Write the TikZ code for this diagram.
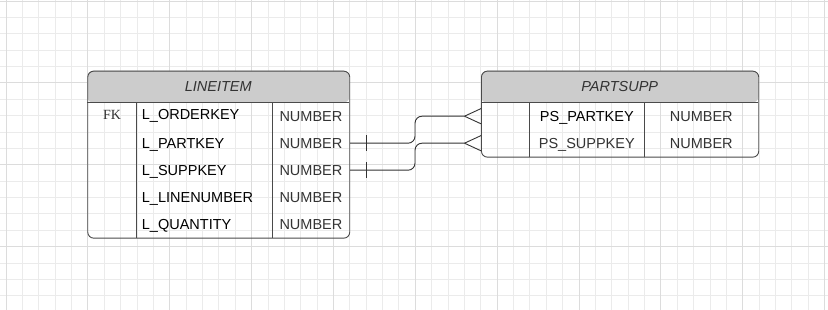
\documentclass[tikz,border=0pt]{standalone}
\usepackage{fontspec}
\setmainfont{Liberation Sans}
\newfontfamily\fkfont{Liberation Serif}
\definecolor{gridminor}{HTML}{EBEBEB}
\definecolor{gridmajor}{HTML}{DCDCDC}
\definecolor{bordc}{HTML}{4A4A4A}
\definecolor{headc}{HTML}{CCCCCC}
\definecolor{txtgrey}{HTML}{333333}
\tikzset{
  gminor/.style={draw=gridminor, line width=0.8pt},
  gmajor/.style={draw=gridmajor, line width=0.8pt},
  tablebox/.style={draw=bordc, line width=0.9pt, rounded corners=6pt, inner sep=0pt, anchor=north west},
  divider/.style={draw=bordc, line width=0.9pt},
  headtxt/.style={font=\fontsize{14.5}{17}\selectfont\itshape, text=txtgrey, inner sep=0pt},
  nametxt/.style={font=\fontsize{14.5}{17}\selectfont, text=black, inner sep=0pt},
  typetxt/.style={font=\fontsize{14.5}{17}\selectfont, text=txtgrey, inner sep=0pt},
  fktxt/.style={font=\fkfont\fontsize{14}{16}\selectfont, text=txtgrey, inner sep=0pt},
  conn/.style={draw=txtgrey, line width=0.9pt},
}
\begin{document}
\begin{tikzpicture}[x=1pt,y=-1pt]
\useasboundingbox (0,0) rectangle (828,310);
\fill[white] (0,0) rectangle (828,310);
% grid
\foreach \k in {0,...,50}{
  \pgfmathsetmacro\xx{6+16.37*\k}
  \draw[gminor] (\xx,0) -- (\xx,310);
}
\foreach \k in {0,...,18}{
  \pgfmathsetmacro\yy{1+16.37*\k}
  \draw[gminor] (0,\yy) -- (828,\yy);
}
\foreach \k in {0,5,...,50}{
  \pgfmathsetmacro\xx{6+16.37*\k}
  \draw[gmajor] (\xx,0) -- (\xx,310);
}
\foreach \k in {0,5,...,15}{
  \pgfmathsetmacro\yy{1+16.37*\k}
  \draw[gmajor] (0,\yy) -- (828,\yy);
}

% ---------- LINEITEM ----------
\fill[headc, rounded corners=6pt] (87.3,102.7) |- (349.3,70.7) -- (349.3,102.7) -- cycle;
\node[tablebox, minimum width=262pt, minimum height=167pt] (li) at (87.3,70.7) {};
\draw[divider] (87.3,102.7) -- (349.3,102.7);
\draw[divider] (136.7,102.7) -- (136.7,237.7);
\draw[divider] (272,102.7) -- (272,237.7);
\node[headtxt] (lih) at (218.3,86.7) {LINEITEM};
\node[fktxt, anchor=base] (lifk) at (112,119.7) {FK};
\node[nametxt, anchor=base west] (lin1) at (141.7,119.5) {L\_ORDERKEY};
\node[nametxt, anchor=base west] (lin2) at (141.7,148.5) {L\_PARTKEY};
\node[nametxt, anchor=base west] (lin3) at (141.7,175.5) {L\_SUPPKEY};
\node[nametxt, anchor=base west] (lin4) at (141.7,202.5) {L\_LINENUMBER};
\node[nametxt, anchor=base west] (lin5) at (141.7,229.5) {L\_QUANTITY};
\node[typetxt, anchor=base west] (lit1) at (279.3,121.5) {NUMBER};
\node[typetxt, anchor=base west] (lit2) at (279.3,148.5) {NUMBER};
\node[typetxt, anchor=base west] (lit3) at (279.3,175.5) {NUMBER};
\node[typetxt, anchor=base west] (lit4) at (279.3,202.5) {NUMBER};
\node[typetxt, anchor=base west] (lit5) at (279.3,229.5) {NUMBER};

% ---------- PARTSUPP ----------
\fill[headc, rounded corners=6pt] (481,102.7) |- (758.3,70.7) -- (758.3,102.7) -- cycle;
\node[tablebox, minimum width=277.3pt, minimum height=86pt] (ps) at (481,70.7) {};
\draw[divider] (481,102.7) -- (758.3,102.7);
\draw[divider] (529.3,102.7) -- (529.3,156.7);
\draw[divider] (644.3,102.7) -- (644.3,156.7);
\node[headtxt] (psh) at (619.7,86.7) {PARTSUPP};
\node[nametxt, anchor=base] (psn1) at (586.8,121.5) {PS\_PARTKEY};
\node[typetxt, anchor=base] (psn2) at (586.8,148.5) {PS\_SUPPKEY};
\node[typetxt, anchor=base] (pst1) at (701.3,121.5) {NUMBER};
\node[typetxt, anchor=base] (pst2) at (701.3,148.5) {NUMBER};

% ---------- connectors ----------
\coordinate (c1s) at (li.east |- 0,143.2);
\coordinate (c2s) at (li.east |- 0,170.2);
\coordinate (c1e) at (ps.west |- 0,116.2);
\coordinate (c2e) at (ps.west |- 0,143.2);
\coordinate (c1v) at (464.5,116.2);
\coordinate (c2v) at (464.5,143.2);

\draw[conn, rounded corners=7pt] (c1s) -- (415,143.2) -- (415,116.2) -- (c1v);
\draw[conn, rounded corners=7pt] (c2s) -- (415,170.2) -- (415,143.2) -- (c2v);
% one bars
\draw[conn] (366.7,135.5) -- (366.7,151);
\draw[conn] (366.7,162.5) -- (366.7,178);
% crow's feet
\draw[conn] (c1v) -- ([yshift=7.6pt]c1e);
\draw[conn] (c1v) -- ([yshift=-7.6pt]c1e);
\draw[conn] (c2v) -- ([yshift=7.6pt]c2e);
\draw[conn] (c2v) -- ([yshift=-7.6pt]c2e);
\end{tikzpicture}
\end{document}
